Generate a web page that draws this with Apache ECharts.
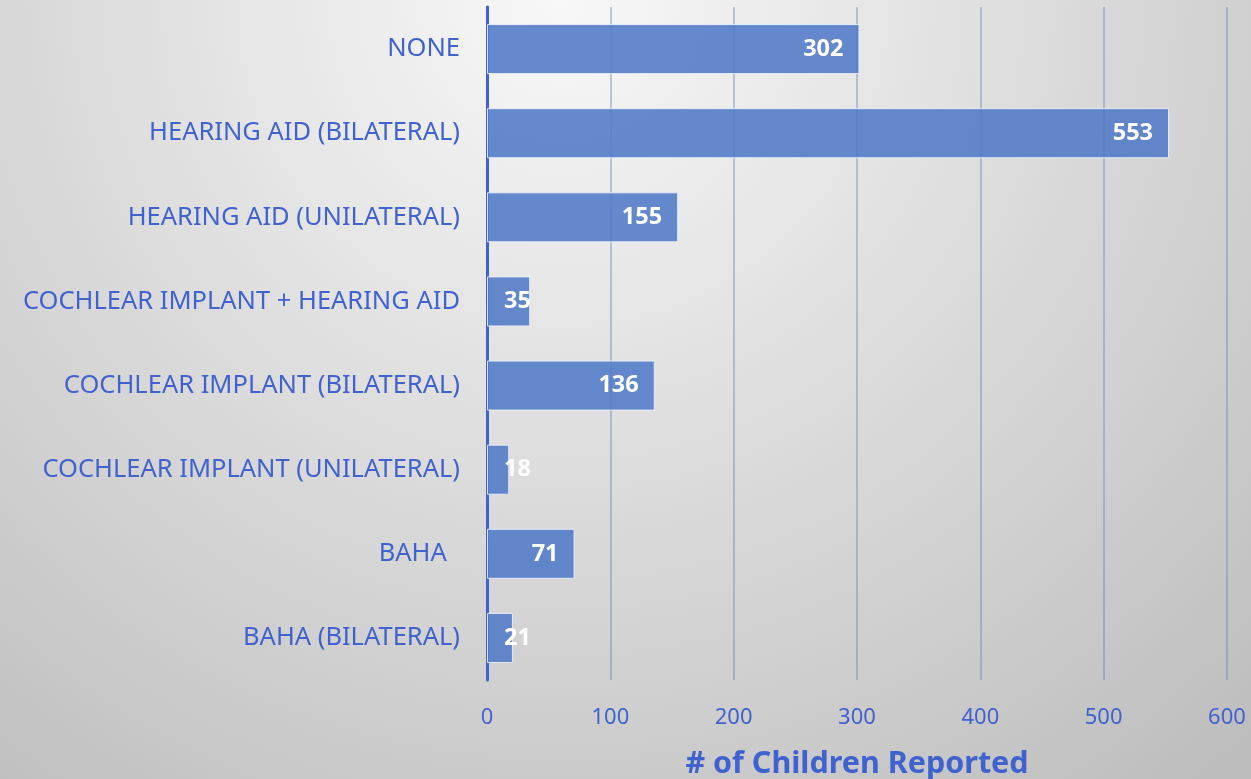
<!DOCTYPE html>
<html><head><meta charset="utf-8">
<script src="https://cdn.jsdelivr.net/npm/echarts@6/dist/echarts.min.js"></script>
<style>html,body{margin:0;padding:0;}#c{width:1251px;height:779px;}</style>
</head><body><div id="c"></div>
<script>
const categories = ['NONE','HEARING AID (BILATERAL)','HEARING AID (UNILATERAL)','COCHLEAR IMPLANT + HEARING AID','COCHLEAR IMPLANT (BILATERAL)','COCHLEAR IMPLANT (UNILATERAL)','BAHA  ','BAHA (BILATERAL)'];
const values = [302,553,155,35,136,18,71,21];
const xTicks = [0,100,200,300,400,500,600];
const axisTitle = '# of Children Reported';

const blue = '#3f62cf';
const font = 'Noto Sans';
const chart = echarts.init(document.getElementById('c'));
chart.setOption({
  backgroundColor: {type:'radial', x:0.45, y:0.0, r:1.3, colorStops:[{offset:0,color:'#f8f8f8'},{offset:1,color:'#bdbdbd'}]},
  grid:{left:487, right:24, top:7, bottom:99, containLabel:false, outerBoundsMode:'none'},
  xAxis:{type:'value', min:xTicks[0], max:xTicks[xTicks.length-1], interval:100,
    name:axisTitle, nameLocation:'middle', nameGap:69,
    nameTextStyle:{color:blue, fontFamily:font, fontWeight:'bold', fontSize:30.5},
    axisLine:{show:false}, axisTick:{show:false},
    axisLabel:{color:blue, fontFamily:font, fontSize:22, margin:27},
    splitLine:{lineStyle:{color:'rgba(110,130,185,0.55)', width:1.5}}},
  yAxis:{type:'category', data:categories, inverse:true,
    axisLine:{lineStyle:{color:blue, width:3}}, axisTick:{show:false},
    axisLabel:{color:blue, fontFamily:font, fontSize:25.5, margin:27}},
  series:[{type:'bar', barWidth:50,
    data: values.map(v => v < 40 ? {value:v, label:{position:'insideLeft', distance:17}} : v),
    itemStyle:{color:'rgba(80,122,198,0.88)', borderColor:'rgba(235,240,250,0.9)', borderWidth:1},
    label:{show:true, position:'insideRight', distance:16, color:'#fff', fontFamily:font, fontWeight:'bold', fontSize:23.5},
    silent:true, animation:false}]
});
</script></body></html>
